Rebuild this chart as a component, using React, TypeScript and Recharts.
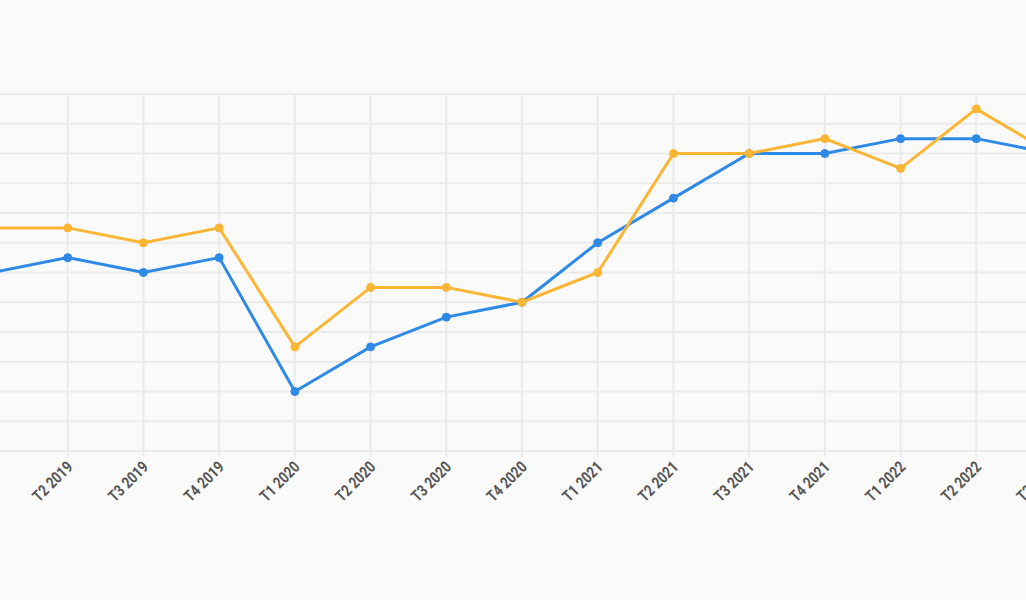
import React from "react";
import { LineChart, Line, XAxis, YAxis, CartesianGrid } from "recharts";

const categories = [
  "T1 2019", "T2 2019", "T3 2019", "T4 2019",
  "T1 2020", "T2 2020", "T3 2020", "T4 2020",
  "T1 2021", "T2 2021", "T3 2021", "T4 2021",
  "T1 2022", "T2 2022", "T3 2022",
];
const blueValues = [6, 6.5, 6, 6.5, 2, 3.5, 4.5, 5, 7, 8.5, 10, 10, 10.5, 10.5, 10];
const orangeValues = [7.5, 7.5, 7, 7.5, 3.5, 5.5, 5.5, 5, 6, 10, 10, 10.5, 9.5, 11.5, 10];
const yTicks = [0, 1, 2, 3, 4, 5, 6, 7, 8, 9, 10, 11, 12];

const data = categories.map((c, i) => ({ name: c, blue: blueValues[i], orange: orangeValues[i] }));

const Tick = (props: any) => {
  const { x, y, payload } = props;
  return (
    <g transform={`translate(${x + 6},${y + 9})`}>
      <text
        x={0}
        y={0}
        textAnchor="end"
        transform="rotate(-45) scale(0.82,1)"
        fill="#555"
        fontSize={16}
        fontWeight={700}
        fontFamily="Roboto, sans-serif"
      >
        {payload.value}
      </text>
    </g>
  );
};

export default function App() {
  return (
    <div style={{ position: "fixed", inset: 0, background: "#fafafa", overflow: "hidden" }}>
      <div style={{ position: "absolute", left: -28, top: 0 }}>
        <LineChart
          width={1100}
          height={600}
          data={data}
          margin={{ top: 94, right: 20, bottom: 89, left: 20 }}
        >
          <CartesianGrid stroke="#ebebeb" strokeWidth={2} />
          <XAxis
            dataKey="name"
            height={60}
            axisLine={false}
            tickLine={{ stroke: "#ebebeb", strokeWidth: 2 }}
            tickSize={6}
            tick={<Tick />}
            interval={0}
          />
          <YAxis hide domain={[0, 12]} ticks={yTicks} />
          <Line
            dataKey="blue"
            stroke="#2e8ae6"
            strokeWidth={3}
            dot={{ r: 4, fill: "#2e8ae6", stroke: "#2e8ae6", strokeWidth: 1 }}
            isAnimationActive={false}
          />
          <Line
            dataKey="orange"
            stroke="#fdb534"
            strokeWidth={3}
            dot={{ r: 4, fill: "#fdb534", stroke: "#fdb534", strokeWidth: 1 }}
            isAnimationActive={false}
          />
        </LineChart>
      </div>
    </div>
  );
}
